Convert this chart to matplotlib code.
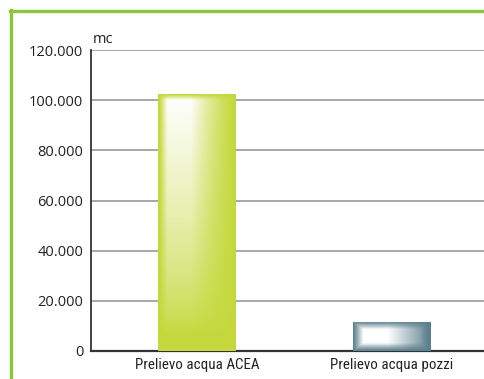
import numpy as np
import matplotlib
matplotlib.use("Agg")
import matplotlib.pyplot as plt
from matplotlib.patches import Rectangle
from matplotlib.lines import Line2D
import matplotlib.font_manager as fm

categories = ["Prelievo acqua ACEA", "Prelievo acqua pozzi"]
values = [102500, 11700]
yticks = [0, 20000, 40000, 60000, 80000, 100000, 120000]
ytick_labels = ["0", "20.000", "40.000", "60.000", "80.000", "100.000", "120.000"]
unit = "mc"

names = {f.name for f in fm.fontManager.ttflist}
cond = "DejaVu Sans"
for cand in ["Roboto Condensed", "Open Sans Condensed", "Liberation Sans Narrow",
             "PT Sans Narrow", "Archivo Narrow", "DejaVu Sans Condensed"]:
    if cand in names:
        cond = cand
        break
num_font = "Open Sans"

W, H = 485, 379
fig = plt.figure(figsize=(W / 100, H / 100), dpi=100)
ax = fig.add_axes([91 / W, (H - 351) / H, (485 - 91) / W, (351 - 50) / H])

ax.set_xlim(-0.545, 1.48)
ax.set_ylim(0, 120000)
ax.set_yticks(yticks)
ax.set_yticklabels(ytick_labels, fontsize=10.5, fontfamily=num_font, color="#222222")
ax.set_xticks(range(len(categories)))
ax.set_xticklabels(categories, fontsize=10.8, fontfamily=cond, color="#222222")
ax.tick_params(axis="both", length=0)
ax.tick_params(axis="x", pad=5)
ax.tick_params(axis="y", pad=5.5)
ax.grid(axis="y", color="#a0a0a0", linewidth=1.3)
ax.set_axisbelow(True)
for s in ["top", "right"]:
    ax.spines[s].set_visible(False)
ax.spines["left"].set_color("#333333")
ax.spines["bottom"].set_color("#333333")
ax.spines["left"].set_linewidth(1.3)
ax.spines["bottom"].set_linewidth(1.6)

width = 0.40
n = 240
xx = np.linspace(0, 1, n)[None, :]
yy = np.linspace(0, 1, n)[:, None]  # 0 = top, 1 = bottom

# green bar shading
green = np.array([0.77, 0.85, 0.24])
fx = np.clip((xx - 0.02) / 0.10, 0, 1) * np.where(xx < 0.42, 1.0, np.clip((1 - xx) / 0.58, 0, 1) ** 1.4)
gy = np.clip((yy - 0.005) / 0.02, 0, 1) * np.clip((0.93 - yy) / 0.93, 0, 1) ** 0.75
w1 = np.clip(fx * gy, 0, 1)[..., None]
img1 = w1 * 1.0 + (1 - w1) * green

# blue-gray bar bevel shading
blue = np.array([0.36, 0.50, 0.56])
dx = np.minimum(xx, 1 - xx) / 0.13
dy = np.minimum(yy, 1 - yy) / 0.27
d = np.clip(np.minimum(dx, dy), 0, 1)
hx = np.where(xx < 0.45, 1.0, np.clip((1 - xx) / 0.55, 0, 1) ** 0.8)
w2 = np.clip(d * hx, 0, 1) ** 1.2
w2 = w2[..., None]
img2 = w2 * 1.0 + (1 - w2) * blue

for i, (v, img) in enumerate(zip(values, [img1, img2])):
    x0 = i - width / 2
    im = ax.imshow(img, extent=(x0, x0 + width, 0, v), aspect="auto", origin="upper", zorder=3)
    r = Rectangle((x0, 0), width, v, transform=ax.transData, facecolor="none", edgecolor="none")
    ax.add_patch(r)
    im.set_clip_path(r)

ax.set_xlim(-0.545, 1.48)
ax.set_ylim(0, 120000)

fig.text(93 / W, 1 - 43 / H, unit, fontsize=10.5, fontfamily=num_font, color="#222222", va="baseline", ha="left")

# green frame
frame_c = "#8cc63e"
fig.add_artist(Line2D([10 / W, 1], [1 - 11 / H, 1 - 11 / H], color=frame_c, linewidth=2.4, transform=fig.transFigure))
fig.add_artist(Line2D([11 / W, 11 / W], [1 - 10 / H, 0], color=frame_c, linewidth=2.4, transform=fig.transFigure))

fig.savefig("out.png", dpi=100)
